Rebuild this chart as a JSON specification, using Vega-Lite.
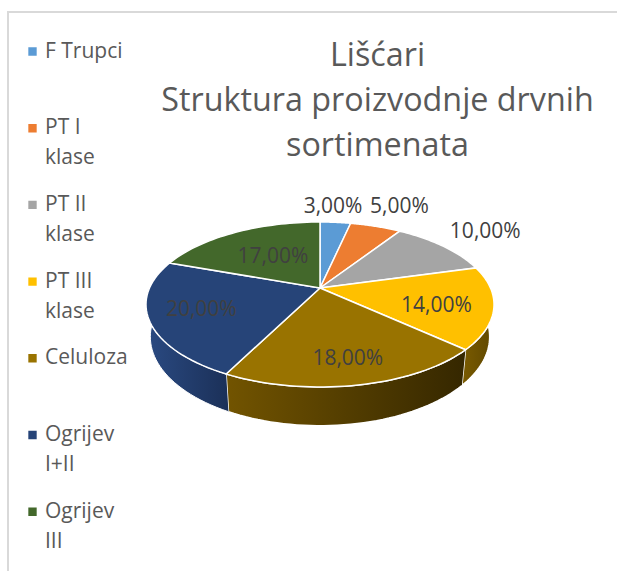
{"$schema":"https://vega.github.io/schema/vega-lite/v6.json","width":620,"height":570,"autosize":"none","padding":{"left":8,"top":12,"right":0,"bottom":0},"background":"white","config":{"font":"Open Sans","view":{"stroke":"#d9d9d9","strokeWidth":2},"style":{"guide-label":{"lineHeight":30}}},
"title":{"text":["Lišćari","Struktura proizvodnje drvnih","sortimenata"],"font":"Open Sans","fontSize":32.3,"fontWeight":"normal","color":"#595959","lineHeight":45,"anchor":"middle","frame":"group","offset":-150,"dx":59.5},
"data":{"values":[{"slice":"F Trupci","value":3},{"slice":"PT I klase","value":5},{"slice":"PT II klase","value":10},{"slice":"PT III klase","value":14},{"slice":"Celuloza","value":18},{"slice":"Ogrijev I+II","value":20},{"slice":"Ogrijev III","value":17}]},
"transform":[{"window":[{"op":"sum","field":"value","as":"cum"}]},{"joinaggregate":[{"op":"sum","field":"value","as":"tot"}]},{"calculate":"2*PI*(datum.cum-datum.value)/datum.tot","as":"a0"},{"calculate":"2*PI*datum.cum/datum.tot","as":"a1"}],
"layer":[
{"transform":[{"filter":"datum.slice=='PT III klase'"},{"calculate":"sequence(0,82)","as":"k"},{"flatten":["k"]},{"calculate":"datum.k<=40?datum.k/40:(81-datum.k)/40","as":"f"},{"calculate":"datum.a0+(datum.a1-datum.a0)*datum.f","as":"th"},{"calculate":"1+0.2*cos(datum.th)","as":"den"},{"calculate":"170.5*sin(datum.th)/datum.den*(datum.k<=40?1:0.975)","as":"X"},{"calculate":"-79.2*cos(datum.th)/datum.den+(datum.k<=40?0:31/datum.den)","as":"Y"}],
"mark":{"type":"line","fill":{"gradient":"linear","x1":0,"y1":0,"x2":1,"y2":0,"stops":[{"offset":0,"color":"#7a5b00"},{"offset":1,"color":"#5f4700"}]},"stroke":"white","strokeWidth":1.5},
"encoding":{"x":{"field":"X","type":"quantitative","scale":{"domain":[-312,308]},"axis":null},"y":{"field":"Y","type":"quantitative","scale":{"domain":[-276,294],"reverse":true},"axis":null},"order":{"field":"k","type":"quantitative"}}},
{"transform":[{"filter":"datum.slice=='Celuloza'"},{"calculate":"sequence(0,82)","as":"k"},{"flatten":["k"]},{"calculate":"datum.k<=40?datum.k/40:(81-datum.k)/40","as":"f"},{"calculate":"datum.a0+(datum.a1-datum.a0)*datum.f","as":"th"},{"calculate":"1+0.2*cos(datum.th)","as":"den"},{"calculate":"170.5*sin(datum.th)/datum.den*(datum.k<=40?1:0.975)","as":"X"},{"calculate":"-79.2*cos(datum.th)/datum.den+(datum.k<=40?0:31/datum.den)","as":"Y"}],
"mark":{"type":"line","fill":{"gradient":"linear","x1":0,"y1":0,"x2":1,"y2":0,"stops":[{"offset":0,"color":"#725400"},{"offset":1,"color":"#352700"}]},"stroke":"white","strokeWidth":1.5},
"encoding":{"x":{"field":"X","type":"quantitative","scale":{"domain":[-312,308]},"axis":null},"y":{"field":"Y","type":"quantitative","scale":{"domain":[-276,294],"reverse":true},"axis":null},"order":{"field":"k","type":"quantitative"}}},
{"transform":[{"filter":"datum.slice=='Ogrijev I+II'"},{"calculate":"sequence(0,82)","as":"k"},{"flatten":["k"]},{"calculate":"datum.k<=40?datum.k/40:(81-datum.k)/40","as":"f"},{"calculate":"datum.a0+(datum.a1-datum.a0)*datum.f","as":"th"},{"calculate":"1+0.2*cos(datum.th)","as":"den"},{"calculate":"170.5*sin(datum.th)/datum.den*(datum.k<=40?1:0.975)","as":"X"},{"calculate":"-79.2*cos(datum.th)/datum.den+(datum.k<=40?0:31/datum.den)","as":"Y"}],
"mark":{"type":"line","fill":{"gradient":"linear","x1":0,"y1":0,"x2":1,"y2":0,"stops":[{"offset":0,"color":"#2a4a82"},{"offset":1,"color":"#1b3058"}]},"stroke":"white","strokeWidth":1},
"encoding":{"x":{"field":"X","type":"quantitative","scale":{"domain":[-312,308]},"axis":null},"y":{"field":"Y","type":"quantitative","scale":{"domain":[-276,294],"reverse":true},"axis":null},"order":{"field":"k","type":"quantitative"}}},
{"transform":[{"calculate":"sequence(0,43)","as":"k"},{"flatten":["k"]},{"calculate":"datum.a0+(datum.a1-datum.a0)*(datum.k-1)/40","as":"th"},{"calculate":"1+0.2*cos(datum.th)","as":"den"},{"calculate":"(datum.k==0||datum.k==42)?0:170.5*sin(datum.th)/datum.den","as":"X"},{"calculate":"(datum.k==0||datum.k==42)?0:-79.2*cos(datum.th)/datum.den","as":"Y"}],
"mark":{"type":"line","filled":true,"stroke":"white","strokeWidth":1.5},
"encoding":{"x":{"field":"X","type":"quantitative","scale":{"domain":[-312,308]},"axis":null},"y":{"field":"Y","type":"quantitative","scale":{"domain":[-276,294],"reverse":true},"axis":null},"order":{"field":"k","type":"quantitative"},
"fill":{"field":"slice","type":"nominal","sort":null,"scale":{"domain":["F Trupci","PT I klase","PT II klase","PT III klase","Celuloza","Ogrijev I+II","Ogrijev III"],"range":["#5B9BD5","#ED7D31","#A5A5A5","#FFC000","#997300","#264478","#43682B"]},
"legend":{"title":null,"orient":"none","legendX":14,"legendY":16,"symbolType":"square","symbolSize":70,"symbolStrokeWidth":0,"labelFont":"Open Sans","labelFontSize":21,"labelColor":"#595959","labelLimit":120,"labelOffset":2,"rowPadding":12.7,"clipHeight":47,"labelBaseline":"middle","labelExpr":"indexof(datum.label,'F ')==0||indexof(datum.label,' ')<0?[datum.label,' ']:[substring(datum.label,0,lastindexof(datum.label,' ')),substring(datum.label,lastindexof(datum.label,' ')+1)]"}}}},
{"transform":[{"calculate":"(datum.a0+datum.a1)/2","as":"th"},{"calculate":"{'F Trupci':1.3,'PT I klase':1.4,'PT II klase':1.4,'PT III klase':0.68,'Celuloza':0.77,'Ogrijev I+II':0.71,'Ogrijev III':0.52}[datum.slice]","as":"r"},{"calculate":"1+0.2*datum.r*cos(datum.th)","as":"den"},{"calculate":"170.5*datum.r*sin(datum.th)/datum.den+(datum.slice=='F Trupci'?-6:(datum.slice=='PT I klase'?6:0))","as":"X"},{"calculate":"-79.2*datum.r*cos(datum.th)/datum.den+(datum.slice=='PT III klase'?5:0)","as":"Y"},{"calculate":"replace(format(datum.value,'.2f'),'.',',')+'%'","as":"lab"}],
"mark":{"type":"text","font":"Open Sans","fontSize":21,"color":"#404040","align":"center","baseline":"middle"},
"encoding":{"x":{"field":"X","type":"quantitative","scale":{"domain":[-312,308]},"axis":null},"y":{"field":"Y","type":"quantitative","scale":{"domain":[-276,294],"reverse":true},"axis":null},"text":{"field":"lab","type":"nominal"}}}
]}
